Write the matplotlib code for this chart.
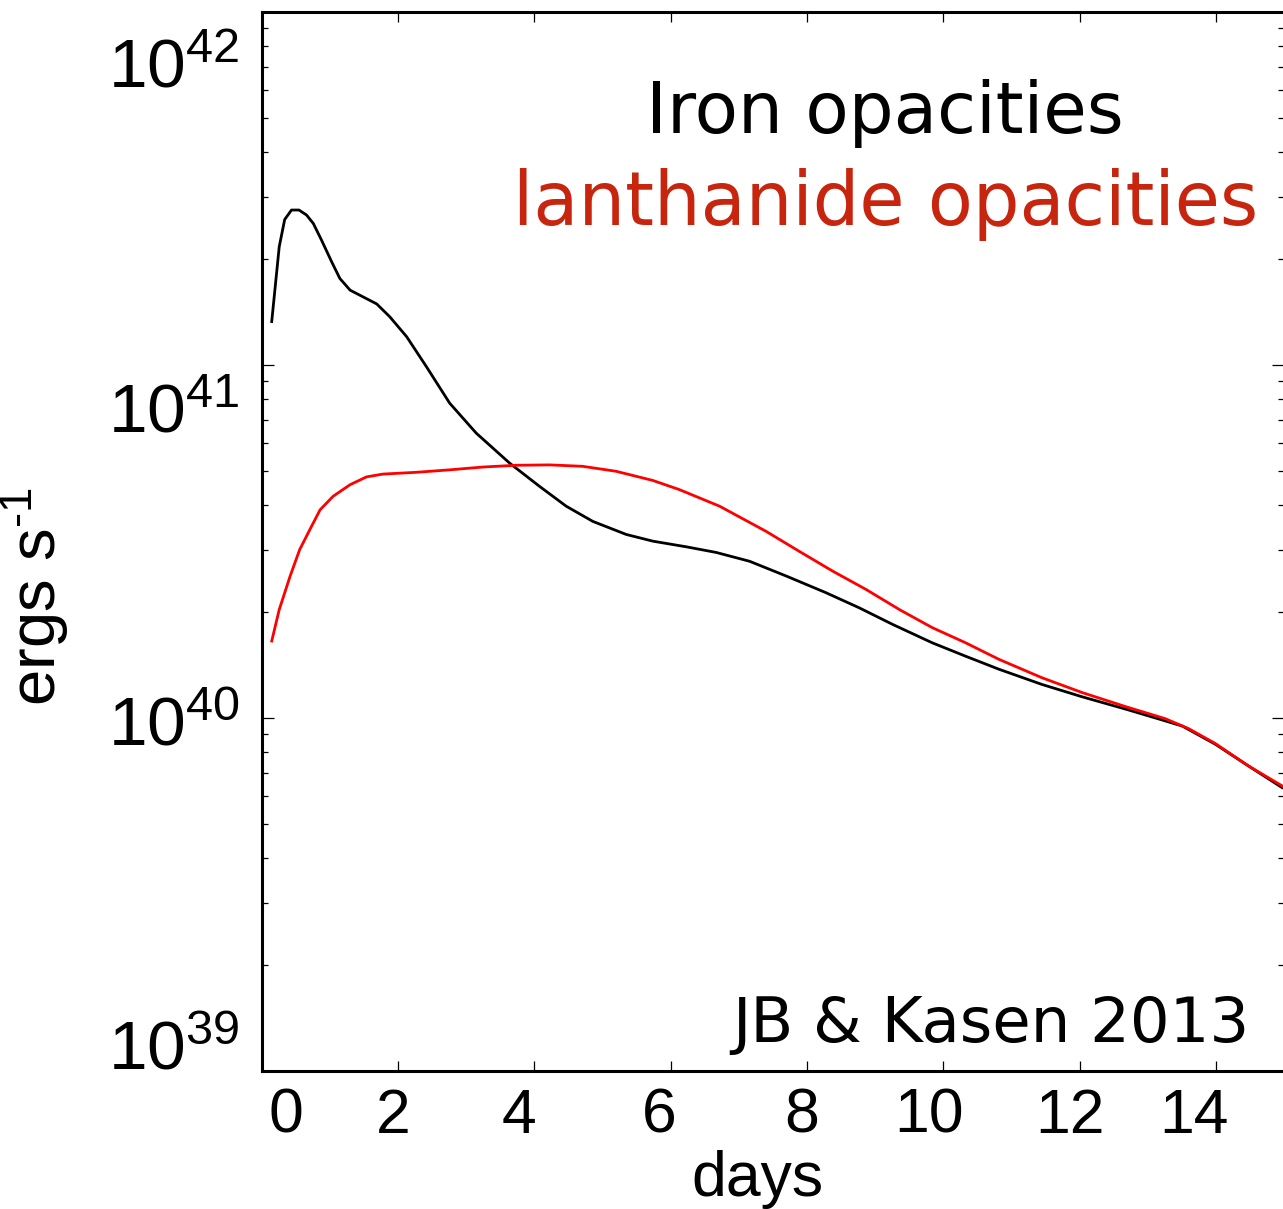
import numpy as np
import matplotlib
matplotlib.use("Agg")
import matplotlib.pyplot as plt
from matplotlib.ticker import LogLocator, NullFormatter, NullLocator
from matplotlib.transforms import ScaledTranslation

# ---- data ----
iron_days = [0.15, 0.26, 0.34, 0.44, 0.55, 0.66, 0.76, 0.88, 1.03, 1.15, 1.30, 1.49,
             1.69, 1.88, 2.13, 2.42, 2.76, 3.15, 3.64, 4.08, 4.47, 4.86, 5.35, 5.74,
             6.23, 6.67, 7.16, 7.70, 8.28, 8.77, 9.26, 9.84, 10.33, 10.82, 11.45,
             12.04, 12.68, 13.22, 13.51, 13.99, 14.48, 14.97]
iron_log_lum = [41.123, 41.335, 41.412, 41.439, 41.439, 41.425, 41.401, 41.354, 41.292,
                41.245, 41.212, 41.193, 41.173, 41.137, 41.080, 40.995, 40.892, 40.807,
                40.722, 40.656, 40.600, 40.557, 40.520, 40.501, 40.485, 40.469, 40.444,
                40.402, 40.355, 40.312, 40.265, 40.213, 40.175, 40.138, 40.095, 40.060,
                40.025, 39.994, 39.977, 39.926, 39.864, 39.803]

lanth_days = [0.15, 0.26, 0.42, 0.56, 0.71, 0.86, 1.05, 1.30, 1.54, 1.78, 2.27, 2.76,
              3.25, 3.74, 4.23, 4.71, 5.20, 5.74, 6.13, 6.72, 7.40, 7.89, 8.38, 8.87,
              9.36, 9.84, 10.33, 10.82, 11.45, 12.04, 12.68, 13.26, 13.60, 13.99,
              14.48, 14.97]
lanth_log_lum = [40.218, 40.307, 40.402, 40.477, 40.534, 40.590, 40.628, 40.661, 40.683,
                 40.691, 40.696, 40.703, 40.711, 40.716, 40.717, 40.713, 40.699, 40.673,
                 40.647, 40.600, 40.529, 40.472, 40.416, 40.364, 40.307, 40.256, 40.213,
                 40.166, 40.114, 40.072, 40.032, 39.998, 39.970, 39.928, 39.864, 39.808]

x_ticks = [0, 2, 4, 6, 8, 10, 12, 14]
x_tick_labels = ["0", "2", "4", "6", "8", "10", "12", "14"]
y_ticks = [1e39, 1e40, 1e41, 1e42]
y_tick_labels = [r"$\mathregular{10^{39}}$", r"$\mathregular{10^{40}}$",
                 r"$\mathregular{10^{41}}$", r"$\mathregular{10^{42}}$"]

# label displacement as in the reference (pixels)
x_label_dx = [24.5, -5, -15.6, -11.6, -5, -14, -9.7, -22]
y_label_dy = [1, -27.4, -67.5, -75.5]

plt.rcParams['font.family'] = ['Liberation Sans', 'DejaVu Sans']
plt.rcParams['mathtext.fontset'] = 'custom'
plt.rcParams['mathtext.rm'] = 'Liberation Sans'
plt.rcParams['mathtext.it'] = 'Liberation Sans:italic'
plt.rcParams['mathtext.bf'] = 'Liberation Sans:bold'
plt.rcParams['mathtext.default'] = 'regular'

fig = plt.figure(figsize=(12.83, 12.09), dpi=100)
ax = fig.add_axes([261.5 / 1283, 138 / 1209, 1022.5 / 1283, 1059 / 1209])

ax.plot(iron_days, 10 ** np.array(iron_log_lum), color='black', lw=2.0)
ax.plot(lanth_days, 10 ** np.array(lanth_log_lum), color='#ff0000', lw=2.0)

ax.set_yscale('log')
ax.set_xlim(0, 15)
ax.set_ylim(1e39, 1e42)

ax.set_xticks(x_ticks)
ax.set_xticklabels(x_tick_labels)
ax.xaxis.set_minor_locator(NullLocator())
ax.set_yticks(y_ticks)
ax.set_yticklabels(y_tick_labels)
ax.yaxis.set_minor_locator(LogLocator(base=10, subs=np.arange(2, 10)))
ax.yaxis.set_minor_formatter(NullFormatter())

ax.tick_params(which='both', direction='in', top=True, right=True, width=0.9, color='black')
ax.tick_params(which='major', length=8.5)
ax.tick_params(which='minor', length=4.3)
ax.tick_params(axis='x', which='major', length=7.5, labelsize=45, pad=11.5)
ax.tick_params(axis='y', which='major', labelsize=50, pad=15.5)

for sp in ax.spines.values():
    sp.set_linewidth(2.2)
ax.spines['right'].set_visible(False)

for lab, dx in zip(ax.get_xticklabels(), x_label_dx):
    lab.set_transform(lab.get_transform() + ScaledTranslation(dx / 100, 0, fig.dpi_scale_trans))
for lab, dy in zip(ax.get_yticklabels(), y_label_dy):
    lab.set_va('baseline')
    lab.set_transform(lab.get_transform() + ScaledTranslation(0, dy / 100, fig.dpi_scale_trans))

ax.set_xlabel('days', fontsize=45)
ax.xaxis.set_label_coords((757 - 261.5) / 1022.5, -(1150 - 1071) / 1059)
ax.set_ylabel(r'ergs s$^{\text{-}1}$', fontsize=47)
ax.yaxis.set_label_coords((72 - 261.5) / 1022.5, (1071 - 597) / 1059)

ax.text((885 - 261.5) / 1022.5, (1071 - 133) / 1059, 'Iron opacities', transform=ax.transAxes,
        ha='center', va='baseline', fontsize=51, color='black', family=['DejaVu Sans'])
ax.text((885.5 - 261.5) / 1022.5, (1071 - 225) / 1059, 'lanthanide opacities', transform=ax.transAxes,
        ha='center', va='baseline', fontsize=53, color='#c8250f', family=['DejaVu Sans'])
ax.text((991 - 261.5) / 1022.5, (1071 - 1041.7) / 1059, 'JB & Kasen 2013', transform=ax.transAxes,
        ha='center', va='baseline', fontsize=45, color='black', family=['DejaVu Sans'])

fig.savefig('out.png', dpi=100)
